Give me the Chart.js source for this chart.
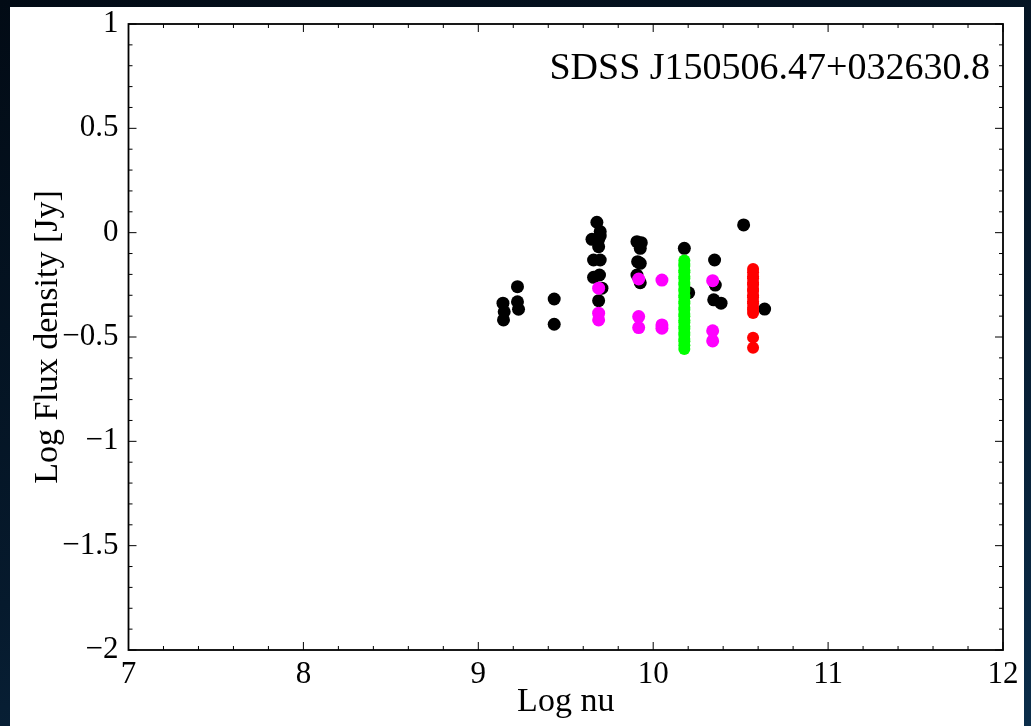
<!DOCTYPE html>
<html>
<head>
<meta charset="utf-8">
<title>SDSS J150506.47+032630.8 SED</title>
<script src="https://cdn.jsdelivr.net/npm/chart.js@4/dist/chart.umd.min.js"></script>
<style>
  html, body { margin: 0; padding: 0; }
  body {
    width: 1031px; height: 726px; overflow: hidden;
    background: linear-gradient(160deg, #020b15 0%, #061a2d 55%, #0b2d4a 100%);
  }
  #frame {
    position: absolute; left: 10px; top: 7px;
    width: 1014px; height: 719px; background: #ffffff;
  }
</style>
</head>
<body>
<div id="frame"><canvas id="sedChart"></canvas></div>
<script>
// Radio SED of SDSS J150506.47+032630.8 (log nu vs log flux density)

const objectName = 'SDSS J150506.47+032630.8';

// archival points (black)
const blackNu = [9.141, 9.148, 9.144, 9.224, 9.224, 9.230, 9.434, 9.434,
  9.678, 9.697, 9.650, 9.688, 9.697, 9.688, 9.659, 9.697, 9.659, 9.693, 9.707, 9.688,
  9.907, 9.932, 9.926, 9.911, 9.926, 9.907, 9.926,
  10.178, 10.203, 10.351, 10.355, 10.346, 10.388, 10.517, 10.637];
const blackFlux = [-0.338, -0.379, -0.418, -0.259, -0.331, -0.367, -0.318, -0.439,
  0.050, 0.005, -0.032, -0.032, -0.016, -0.067, -0.131, -0.131, -0.214, -0.203, -0.266, -0.326,
  -0.043, -0.048, -0.075, -0.139, -0.147, -0.203, -0.240,
  -0.075, -0.288, -0.131, -0.251, -0.322, -0.338, 0.037, -0.366];

// magenta points
const magentaNu = [9.688, 9.688, 9.688, 9.917, 9.917, 9.917, 10.050, 10.050, 10.050, 10.340, 10.340, 10.340];
const magentaFlux = [-0.266, -0.386, -0.418, -0.222, -0.402, -0.455, -0.227, -0.442, -0.458, -0.230, -0.470, -0.519];

// green monitoring points, all at one frequency
const greenNu = 10.178;
const greenFlux = [-0.133, -0.15, -0.16, -0.18, -0.19, -0.21, -0.22, -0.24, -0.25, -0.27,
  -0.28, -0.30, -0.31, -0.33, -0.34, -0.36, -0.37, -0.39, -0.40, -0.42,
  -0.43, -0.45, -0.46, -0.48, -0.49, -0.51, -0.52, -0.54, -0.557];

// red monitoring points, all at one frequency
const redNu = 10.571;
const redFlux = [-0.174, -0.19, -0.21, -0.22, -0.24, -0.25, -0.27, -0.28, -0.30,
  -0.31, -0.33, -0.34, -0.36, -0.37, -0.385, -0.503, -0.551];

// axis ticks
const xTickValues = [7, 8, 9, 10, 11, 12];
const xTickLabels = ['7', '8', '9', '10', '11', '12'];
const yTickValues = [1, 0.5, 0, -0.5, -1, -1.5, -2];
const yTickLabels = ['1', '0.5', '0', '\u22120.5', '\u22121', '\u22121.5', '\u22122'];

const toPoints = (xs, ys) => ys.map((y, i) => ({ x: Array.isArray(xs) ? xs[i] : xs, y: y }));

const serif = "'Liberation Serif', 'DejaVu Serif', serif";

// drop the label overhang padding so layout.padding alone fixes the plot box
const noOverhang = (scale) => {
  scale.paddingTop = 0;
  scale.paddingBottom = 0;
  scale.paddingLeft = 0;
  scale.paddingRight = 0;
};

// frame with inward major/minor ticks on all four sides, plus the object name
const framePlugin = {
  id: 'frame',
  afterDraw(chart) {
    const { ctx, chartArea: a, scales } = chart;
    const xs = scales.x, ys = scales.y;
    ctx.save();
    ctx.strokeStyle = '#000';
    ctx.lineWidth = 1;
    ctx.beginPath();
    for (let v = 7; v <= 12.0001; v += 0.2) {
      const px = xs.getPixelForValue(v);
      const len = Math.abs(v - Math.round(v)) < 1e-6 ? 8 : 4;
      ctx.moveTo(px, a.bottom); ctx.lineTo(px, a.bottom - len);
      ctx.moveTo(px, a.top); ctx.lineTo(px, a.top + len);
    }
    for (let v = -2; v <= 1.0001; v += 0.1) {
      const py = ys.getPixelForValue(v);
      const len = Math.abs(v * 2 - Math.round(v * 2)) < 1e-6 ? 8 : 4;
      ctx.moveTo(a.left, py); ctx.lineTo(a.left + len, py);
      ctx.moveTo(a.right, py); ctx.lineTo(a.right - len, py);
    }
    ctx.stroke();
    ctx.lineWidth = 1.8;
    ctx.strokeRect(a.left, a.top, a.right - a.left, a.bottom - a.top);

    ctx.fillStyle = '#000';
    ctx.font = '38px ' + serif;
    ctx.textAlign = 'right';
    ctx.textBaseline = 'alphabetic';
    ctx.fillText(objectName, a.right - 13, a.top + 55);
    ctx.restore();
  }
};

const ctx = document.getElementById('sedChart').getContext('2d');

new Chart(ctx, {
  type: 'scatter',
  data: {
    datasets: [
      {
        label: 'red',
        data: toPoints(redNu, redFlux),
        backgroundColor: '#ff0000',
        pointRadius: 6,
        pointBorderWidth: 0,
        order: 1
      },
      {
        label: 'green',
        data: toPoints(greenNu, greenFlux),
        backgroundColor: '#00ff00',
        pointRadius: 6,
        pointBorderWidth: 0,
        order: 2
      },
      {
        label: 'magenta',
        data: toPoints(magentaNu, magentaFlux),
        backgroundColor: '#ff00ff',
        pointRadius: 6.5,
        pointBorderWidth: 0,
        order: 3
      },
      {
        label: 'archival',
        data: toPoints(blackNu, blackFlux),
        backgroundColor: '#000000',
        pointRadius: 6.5,
        pointBorderWidth: 0,
        order: 4
      }
    ]
  },
  options: {
    responsive: true,
    maintainAspectRatio: false,
    animation: false,
    layout: { padding: { left: 0, top: 17, right: 21, bottom: 0 } },
    plugins: {
      legend: { display: false },
      tooltip: { enabled: false }
    },
    scales: {
      x: {
        type: 'linear',
        min: 7,
        max: 12,
        afterFit: (scale) => { scale.height = 76; noOverhang(scale); },
        afterBuildTicks: (scale) => { scale.ticks = xTickValues.map(v => ({ value: v })); },
        grid: { display: false, drawTicks: false },
        border: { display: false },
        ticks: {
          autoSkip: false,
          maxRotation: 0,
          padding: 6,
          color: '#000',
          font: { family: serif, size: 31 },
          callback: (value, index) => xTickLabels[index]
        },
        title: {
          display: true,
          text: 'Log nu',
          color: '#000',
          font: { family: serif, size: 34 },
          padding: { top: 0, bottom: 4 }
        }
      },
      y: {
        type: 'linear',
        min: -2,
        max: 1,
        afterFit: (scale) => { scale.width = 118.5; noOverhang(scale); },
        afterBuildTicks: (scale) => { scale.ticks = yTickValues.map(v => ({ value: v })); },
        grid: { display: false, drawTicks: false },
        border: { display: false },
        ticks: {
          autoSkip: false,
          padding: 10,
          color: '#000',
          font: { family: serif, size: 31 },
          callback: (value, index) => yTickLabels[index]
        },
        title: {
          display: true,
          text: 'Log Flux density [Jy]',
          color: '#000',
          font: { family: serif, size: 34 },
          padding: { top: 18, bottom: 0 }
        }
      }
    }
  },
  plugins: [framePlugin]
});
</script>
</body>
</html>
